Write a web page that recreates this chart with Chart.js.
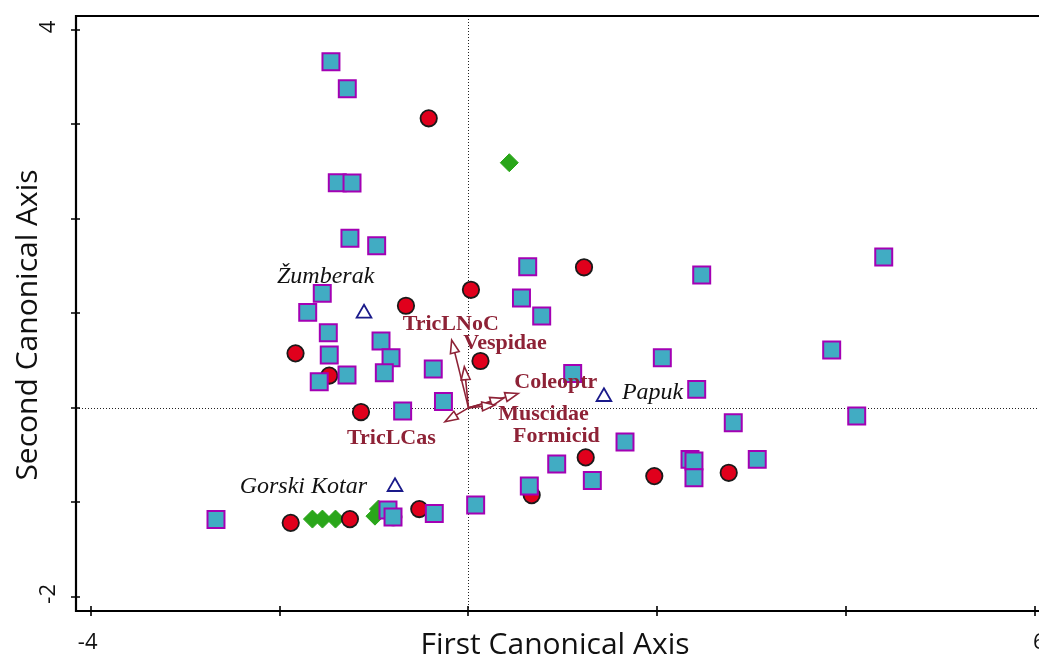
<!DOCTYPE html>
<html>
<head>
<meta charset="utf-8">
<script src="https://cdn.jsdelivr.net/npm/chart.js@4"></script>
<style>
  html, body { margin: 0; padding: 0; background: #fff; width: 1039px; height: 658px; overflow: hidden; }
  canvas { display: block; }
</style>
</head>
<body>
<canvas id="c" width="1039" height="658"></canvas>
<script>
// Site scores on the first two canonical axes, one array per site group
const groupSquaresX = [-1.456, -1.283, -1.389, -1.233, -1.255, -0.972, -1.548, -1.702, -1.484, -1.474, -0.926, -0.820, -1.286, -1.580, -0.891, -0.373, -0.265, -0.697, 0.627, 0.561, 0.775, 1.103, 2.052, 2.469, 4.396, 3.845, 2.416, 2.803, 4.110, 1.657, 0.934, 1.311, 2.345, 2.387, 2.387, 3.057, 0.644, 0.076, -0.362, -0.852, -0.799, -2.673];
const groupSquaresY = [3.664, 3.379, 2.383, 2.380, 1.795, 1.716, 1.212, 1.011, 0.795, 0.559, 0.707, 0.530, 0.347, 0.276, 0.372, 0.411, 0.067, -0.034, 1.494, 1.163, 0.972, 0.365, 0.530, 1.406, 1.597, 0.612, 0.196, -0.158, -0.087, -0.362, -0.595, -0.768, -0.545, -0.563, -0.740, -0.545, -0.828, -1.029, -1.117, -1.082, -1.156, -1.181];

const groupCirclesX = [-0.421, 1.223, 0.026, -0.662, -1.831, -1.474, 0.127, -1.138, 1.241, 1.967, 2.755, 0.669, -0.521, -0.796, -1.255, -1.882];
const groupCirclesY = [3.065, 1.488, 1.250, 1.081, 0.577, 0.342, 0.496, -0.044, -0.524, -0.722, -0.687, -0.923, -1.071, -1.156, -1.177, -1.217];

const groupDiamondsX = [0.432, -1.652, -1.546, -1.408, -0.990, -0.953];
const groupDiamondsY = [2.595, -1.177, -1.177, -1.177, -1.146, -1.071];

// Region centroids
const regionNames = ['Žumberak', 'Gorski Kotar', 'Papuk'];
const regionX = [-1.106, -0.778, 1.434];
const regionY = [1.001, -0.835, 0.118];

// Taxon vectors (biplot arrows)
const taxonNames = ['TricLNoC', 'Vespidae', 'Coleoptr', 'Muscidae', 'Formicid', 'TricLCas'];
const taxonX = [-0.178, -0.044, 0.527, 0.368, 0.281, -0.249];
const taxonY = [0.718, 0.435, 0.153, 0.101, 0.030, -0.147];

// Axis ticks and labels
const xTicks = [-4, -2, 0, 2, 4, 6];
const xTickLabels = ['-4', '', '', '', '', '6'];
const yTicks = [-2, -1, 0, 1, 2, 3, 4];
const yTickLabels = ['-2', '', '', '', '', '', '4'];
const xTitle = 'First Canonical Axis';
const yTitle = 'Second Canonical Axis';

const pts = (xs, ys) => xs.map((x, i) => ({ x, y: ys[i] }));

const SANS = '"Open Sans", "Noto Sans", sans-serif';
const SERIF = '"Liberation Serif", "DejaVu Serif", serif';
const ARROW_COLOR = '#8e2236';

// Label placement (pixel offsets from the arrow tip / centroid)
const taxonLabelOffset = {
  'TricLNoC': [-49, -10], 'Vespidae': [-1, -18], 'Coleoptr': [-4, -5],
  'Muscidae': [-5, 22], 'Formicid': [18, 37], 'TricLCas': [-98, 22]
};
const regionLabelOffset = [
  { dx: -87, dy: -30, align: 'left' },
  { dx: -28, dy: 6, align: 'right' },
  { dx: 18, dy: 2, align: 'left' }
];
const xTickLabelShift = [-3, 0, 0, 0, 0, 4];

const axesPlugin = {
  id: 'ordinationAxes',
  beforeDatasetsDraw(chart) {
    const { ctx, chartArea: a, scales: { x, y } } = chart;
    ctx.save();
    // dotted zero lines
    ctx.strokeStyle = '#222';
    ctx.lineWidth = 1;
    ctx.setLineDash([1, 2]);
    const x0 = Math.round(x.getPixelForValue(0)) + 0.5;
    const y0 = Math.round(y.getPixelForValue(0)) + 0.5;
    ctx.beginPath();
    ctx.moveTo(x0, a.top); ctx.lineTo(x0, a.bottom);
    ctx.moveTo(a.left, y0); ctx.lineTo(a.right, y0);
    ctx.stroke();
    ctx.restore();

    // taxon arrows
    ctx.save();
    ctx.strokeStyle = ARROW_COLOR;
    ctx.fillStyle = '#fff';
    ctx.lineWidth = 1.6;
    const ox = x.getPixelForValue(0), oy = y.getPixelForValue(0);
    taxonNames.forEach((n, i) => {
      const tx = x.getPixelForValue(taxonX[i]);
      const ty = y.getPixelForValue(taxonY[i]);
      const ang = Math.atan2(ty - oy, tx - ox);
      const len = 13, half = 4.5;
      const bx = tx - Math.cos(ang) * len, by = ty - Math.sin(ang) * len;
      ctx.beginPath();
      ctx.moveTo(ox, oy); ctx.lineTo(bx, by);
      ctx.stroke();
      ctx.beginPath();
      ctx.moveTo(tx, ty);
      ctx.lineTo(bx + Math.sin(ang) * half, by - Math.cos(ang) * half);
      ctx.lineTo(bx - Math.sin(ang) * half, by + Math.cos(ang) * half);
      ctx.closePath();
      ctx.fill();
      ctx.stroke();
    });
    ctx.restore();
  },
  afterDatasetsDraw(chart) {
    const { ctx, chartArea: a, scales: { x, y } } = chart;
    ctx.save();
    // frame (the right edge of the frame lies past the canvas) and axes
    ctx.strokeStyle = '#000';
    ctx.lineWidth = 2.2;
    ctx.beginPath();
    ctx.moveTo(a.right + 20, a.top); ctx.lineTo(a.left, a.top);
    ctx.lineTo(a.left, a.bottom); ctx.lineTo(a.right + 20, a.bottom);
    ctx.stroke();
    ctx.lineWidth = 1.6;
    ctx.beginPath();
    xTicks.forEach(v => {
      const px = Math.round(x.getPixelForValue(v));
      ctx.moveTo(px, a.bottom - 5); ctx.lineTo(px, a.bottom + 5);
    });
    yTicks.forEach(v => {
      const py = Math.round(y.getPixelForValue(v));
      ctx.moveTo(a.left - 5, py); ctx.lineTo(a.left + 4, py);
    });
    ctx.stroke();

    // tick labels
    ctx.fillStyle = '#111';
    ctx.font = '22px ' + SANS;
    ctx.textAlign = 'center';
    ctx.textBaseline = 'alphabetic';
    xTicks.forEach((v, i) => {
      if (!xTickLabels[i]) return;
      ctx.fillText(xTickLabels[i], x.getPixelForValue(v) + xTickLabelShift[i], a.bottom + 38);
    });
    yTicks.forEach((v, i) => {
      if (!yTickLabels[i]) return;
      ctx.save();
      ctx.translate(a.left - 21, y.getPixelForValue(v) - 3);
      ctx.rotate(-Math.PI / 2);
      ctx.fillText(yTickLabels[i], 0, 0);
      ctx.restore();
    });

    // axis titles
    ctx.font = '30px ' + SANS;
    ctx.fillText(xTitle, 555, 654);
    ctx.save();
    ctx.translate(37, 325);
    ctx.rotate(-Math.PI / 2);
    ctx.fillText(yTitle, 0, 0);
    ctx.restore();

    // region labels
    ctx.font = 'italic 24px ' + SERIF;
    ctx.fillStyle = '#111';
    regionNames.forEach((n, i) => {
      const o = regionLabelOffset[i];
      ctx.textAlign = o.align;
      ctx.fillText(n, x.getPixelForValue(regionX[i]) + o.dx, y.getPixelForValue(regionY[i]) + o.dy);
    });

    // taxon labels
    ctx.font = 'bold 22px ' + SERIF;
    ctx.fillStyle = ARROW_COLOR;
    ctx.textAlign = 'left';
    taxonNames.forEach((n, i) => {
      const o = taxonLabelOffset[n];
      ctx.fillText(n, x.getPixelForValue(taxonX[i]) + o[0], y.getPixelForValue(taxonY[i]) + o[1]);
    });
    ctx.restore();
  }
};

new Chart(document.getElementById('c'), {
  type: 'scatter',
  data: {
    datasets: [
      {
        label: 'Regions',
        data: pts(regionX, regionY),
        pointStyle: 'triangle',
        pointRadius: 8.5,
        pointBackgroundColor: '#ffffff',
        pointBorderColor: '#1a1a8a',
        pointBorderWidth: 1.8
      },
      {
        label: 'Squares',
        data: pts(groupSquaresX, groupSquaresY),
        pointStyle: 'rect',
        pointRadius: 12,
        pointBackgroundColor: '#41acc3',
        pointBorderColor: '#a400b4',
        pointBorderWidth: 2
      },
      {
        label: 'Circles',
        data: pts(groupCirclesX, groupCirclesY),
        pointStyle: 'circle',
        pointRadius: 8.2,
        pointBackgroundColor: '#e0001c',
        pointBorderColor: '#1a1a1a',
        pointBorderWidth: 1.8
      },
      {
        label: 'Diamonds',
        data: pts(groupDiamondsX, groupDiamondsY),
        pointStyle: 'rectRot',
        pointRadius: 9,
        pointBackgroundColor: '#2aa61a',
        pointBorderColor: '#2aa61a',
        pointBorderWidth: 1
      }
    ]
  },
  options: {
    responsive: false,
    animation: false,
    devicePixelRatio: 1,
    layout: { autoPadding: false, padding: { left: 76, top: 16, right: 0, bottom: 47 } },
    plugins: { legend: { display: false }, tooltip: { enabled: false } },
    scales: {
      x: { type: 'linear', display: false, min: -4.155, max: 6.0397 },
      y: { type: 'linear', display: false, min: -2.15, max: 4.148 }
    }
  },
  plugins: [axesPlugin]
});
</script>
</body>
</html>
